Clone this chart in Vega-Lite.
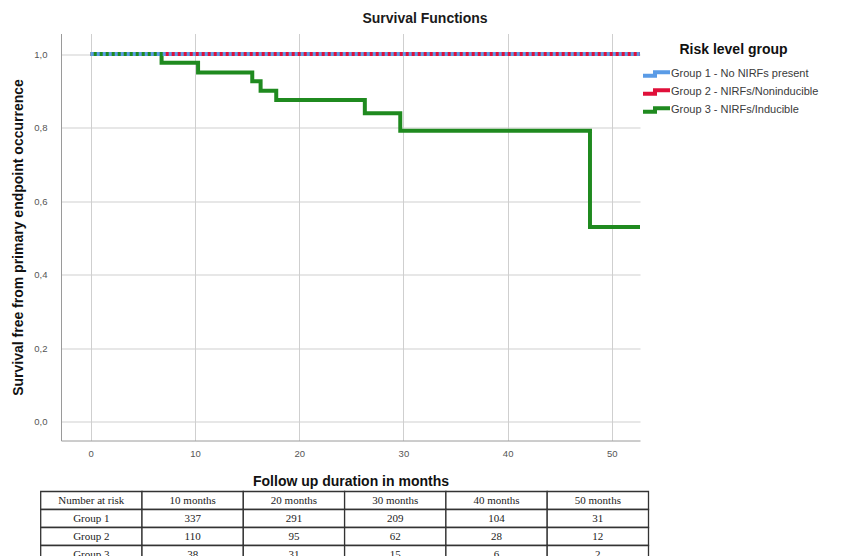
{
  "$schema": "https://vega.github.io/schema/vega-lite/v6.json",
  "background": "white",
  "padding": {"left": 11, "top": 11.5, "right": 5, "bottom": 0},
  "bounds": "flush",
  "spacing": 51,
  "config": {"view": {"stroke": null}, "font": "Liberation Sans"},
  "vconcat": [
    {
      "width": 579,
      "height": 407,
      "title": {"text": "Survival Functions", "fontSize": 14, "fontWeight": "bold", "color": "#1a1a1a", "anchor": "middle", "frame": "group", "dx": 74.5, "offset": 8},
      "data": {"values": [
        {"group": "Group 1 - No NIRFs present", "time": 0, "surv": 1},
        {"group": "Group 1 - No NIRFs present", "time": 52.7, "surv": 1},
        {"group": "Group 2 - NIRFs/Noninducible", "time": 0, "surv": 1},
        {"group": "Group 2 - NIRFs/Noninducible", "time": 52.7, "surv": 1},
        {"group": "Group 3 - NIRFs/Inducible", "time": 0, "surv": 1},
        {"group": "Group 3 - NIRFs/Inducible", "time": 6.8, "surv": 0.976},
        {"group": "Group 3 - NIRFs/Inducible", "time": 10.3, "surv": 0.95},
        {"group": "Group 3 - NIRFs/Inducible", "time": 15.5, "surv": 0.926},
        {"group": "Group 3 - NIRFs/Inducible", "time": 16.3, "surv": 0.9},
        {"group": "Group 3 - NIRFs/Inducible", "time": 17.8, "surv": 0.875},
        {"group": "Group 3 - NIRFs/Inducible", "time": 26.3, "surv": 0.839},
        {"group": "Group 3 - NIRFs/Inducible", "time": 29.7, "surv": 0.791},
        {"group": "Group 3 - NIRFs/Inducible", "time": 47.9, "surv": 0.529},
        {"group": "Group 3 - NIRFs/Inducible", "time": 52.7, "surv": 0.529}
      ]},
      "encoding": {
        "x": {
          "field": "time", "type": "quantitative",
          "scale": {"domain": [-2.85, 52.7], "nice": false, "zero": false},
          "axis": {
            "values": [0, 10, 20, 30, 40, 50], "grid": true, "gridColor": "#cfcfcf", "gridWidth": 1,
            "domainColor": "#9a9a9a", "ticks": false, "labelPadding": 8, "labelFontSize": 9.5, "labelColor": "#555555",
            "title": "Follow up duration in months", "titleFontSize": 14, "titleFontWeight": "bold", "titleColor": "#111111", "titlePadding": 16
          }
        },
        "y": {
          "field": "surv", "type": "quantitative",
          "scale": {"domain": [-0.0517, 1.0558], "nice": false, "zero": false},
          "axis": {
            "values": [0, 0.2, 0.4, 0.6, 0.8, 1.0], "grid": true, "gridColor": "#cfcfcf", "gridWidth": 1,
            "domainColor": "#9a9a9a", "ticks": false, "labelPadding": 14, "labelFontSize": 9.5, "labelColor": "#555555",
            "labelExpr": "replace(format(datum.value, '.1f'), '.', ',')",
            "title": "Survival free from primary endpoint occurrence", "titleFontSize": 14, "titleFontWeight": "bold", "titleColor": "#111111", "titlePadding": 8
          }
        }
      },
      "layer": [
        {
          "mark": {"type": "line", "interpolate": "step-after", "strokeWidth": 4, "clip": true},
          "encoding": {
            "color": {
              "field": "group", "type": "nominal",
              "scale": {"domain": ["Group 1 - No NIRFs present", "Group 2 - NIRFs/Noninducible", "Group 3 - NIRFs/Inducible"], "range": ["#5a9be6", "#e0103a", "#1f8a1f"]},
              "legend": {
                "title": "Risk level group", "orient": "none", "legendX": 587.5, "legendY": 9.5,
                "titleFontSize": 14, "titleFontWeight": "bold", "titleColor": "#111111", "titleAnchor": "middle", "titlePadding": 9,
                "labelFontSize": 11, "labelColor": "#3a3a3a", "labelOffset": 6.5, "rowPadding": -4,
                "symbolType": "M-2.25,0.3L-0.25,0.3L-0.25,-0.3L2.25,-0.3", "symbolSize": 144, "symbolStrokeWidth": 4
              }
            }
          }
        },
        {
          "transform": [{"filter": "datum.group == 'Group 1 - No NIRFs present'"}],
          "mark": {"type": "line", "interpolate": "step-after", "strokeWidth": 4, "clip": true, "color": "#5a9be6", "strokeDash": [3, 3]}
        }
      ]
    },
    {
      "width": 579,
      "height": 72,
      "data": {"values": [
        {"r": "h", "c": "c0", "text": "Number at risk"},
        {"r": "h", "c": "c1", "text": "10 months"},
        {"r": "h", "c": "c2", "text": "20 months"},
        {"r": "h", "c": "c3", "text": "30 months"},
        {"r": "h", "c": "c4", "text": "40 months"},
        {"r": "h", "c": "c5", "text": "50 months"},
        {"r": "g1", "c": "c0", "text": "Group 1"},
        {"r": "g1", "c": "c1", "text": "337"},
        {"r": "g1", "c": "c2", "text": "291"},
        {"r": "g1", "c": "c3", "text": "209"},
        {"r": "g1", "c": "c4", "text": "104"},
        {"r": "g1", "c": "c5", "text": "31"},
        {"r": "g2", "c": "c0", "text": "Group 2"},
        {"r": "g2", "c": "c1", "text": "110"},
        {"r": "g2", "c": "c2", "text": "95"},
        {"r": "g2", "c": "c3", "text": "62"},
        {"r": "g2", "c": "c4", "text": "28"},
        {"r": "g2", "c": "c5", "text": "12"},
        {"r": "g3", "c": "c0", "text": "Group 3"},
        {"r": "g3", "c": "c1", "text": "38"},
        {"r": "g3", "c": "c2", "text": "31"},
        {"r": "g3", "c": "c3", "text": "15"},
        {"r": "g3", "c": "c4", "text": "6"},
        {"r": "g3", "c": "c5", "text": "2"}
      ]},
      "encoding": {
        "x": {"field": "c", "type": "nominal", "scale": {"domain": ["c0", "c1", "c2", "c3", "c4", "c5"], "range": [-20.3, 587.5], "paddingInner": 0, "paddingOuter": 0}, "axis": null},
        "y": {"field": "r", "type": "nominal", "scale": {"domain": ["h", "g1", "g2", "g3"], "paddingInner": 0, "paddingOuter": 0}, "axis": null}
      },
      "layer": [
        {"mark": {"type": "rect", "fill": "white", "stroke": "#333333", "strokeWidth": 1.3}},
        {"mark": {"type": "text", "font": "Liberation Serif", "fontSize": 11, "color": "#222222"}, "encoding": {"text": {"field": "text"}}}
      ]
    }
  ]
}
